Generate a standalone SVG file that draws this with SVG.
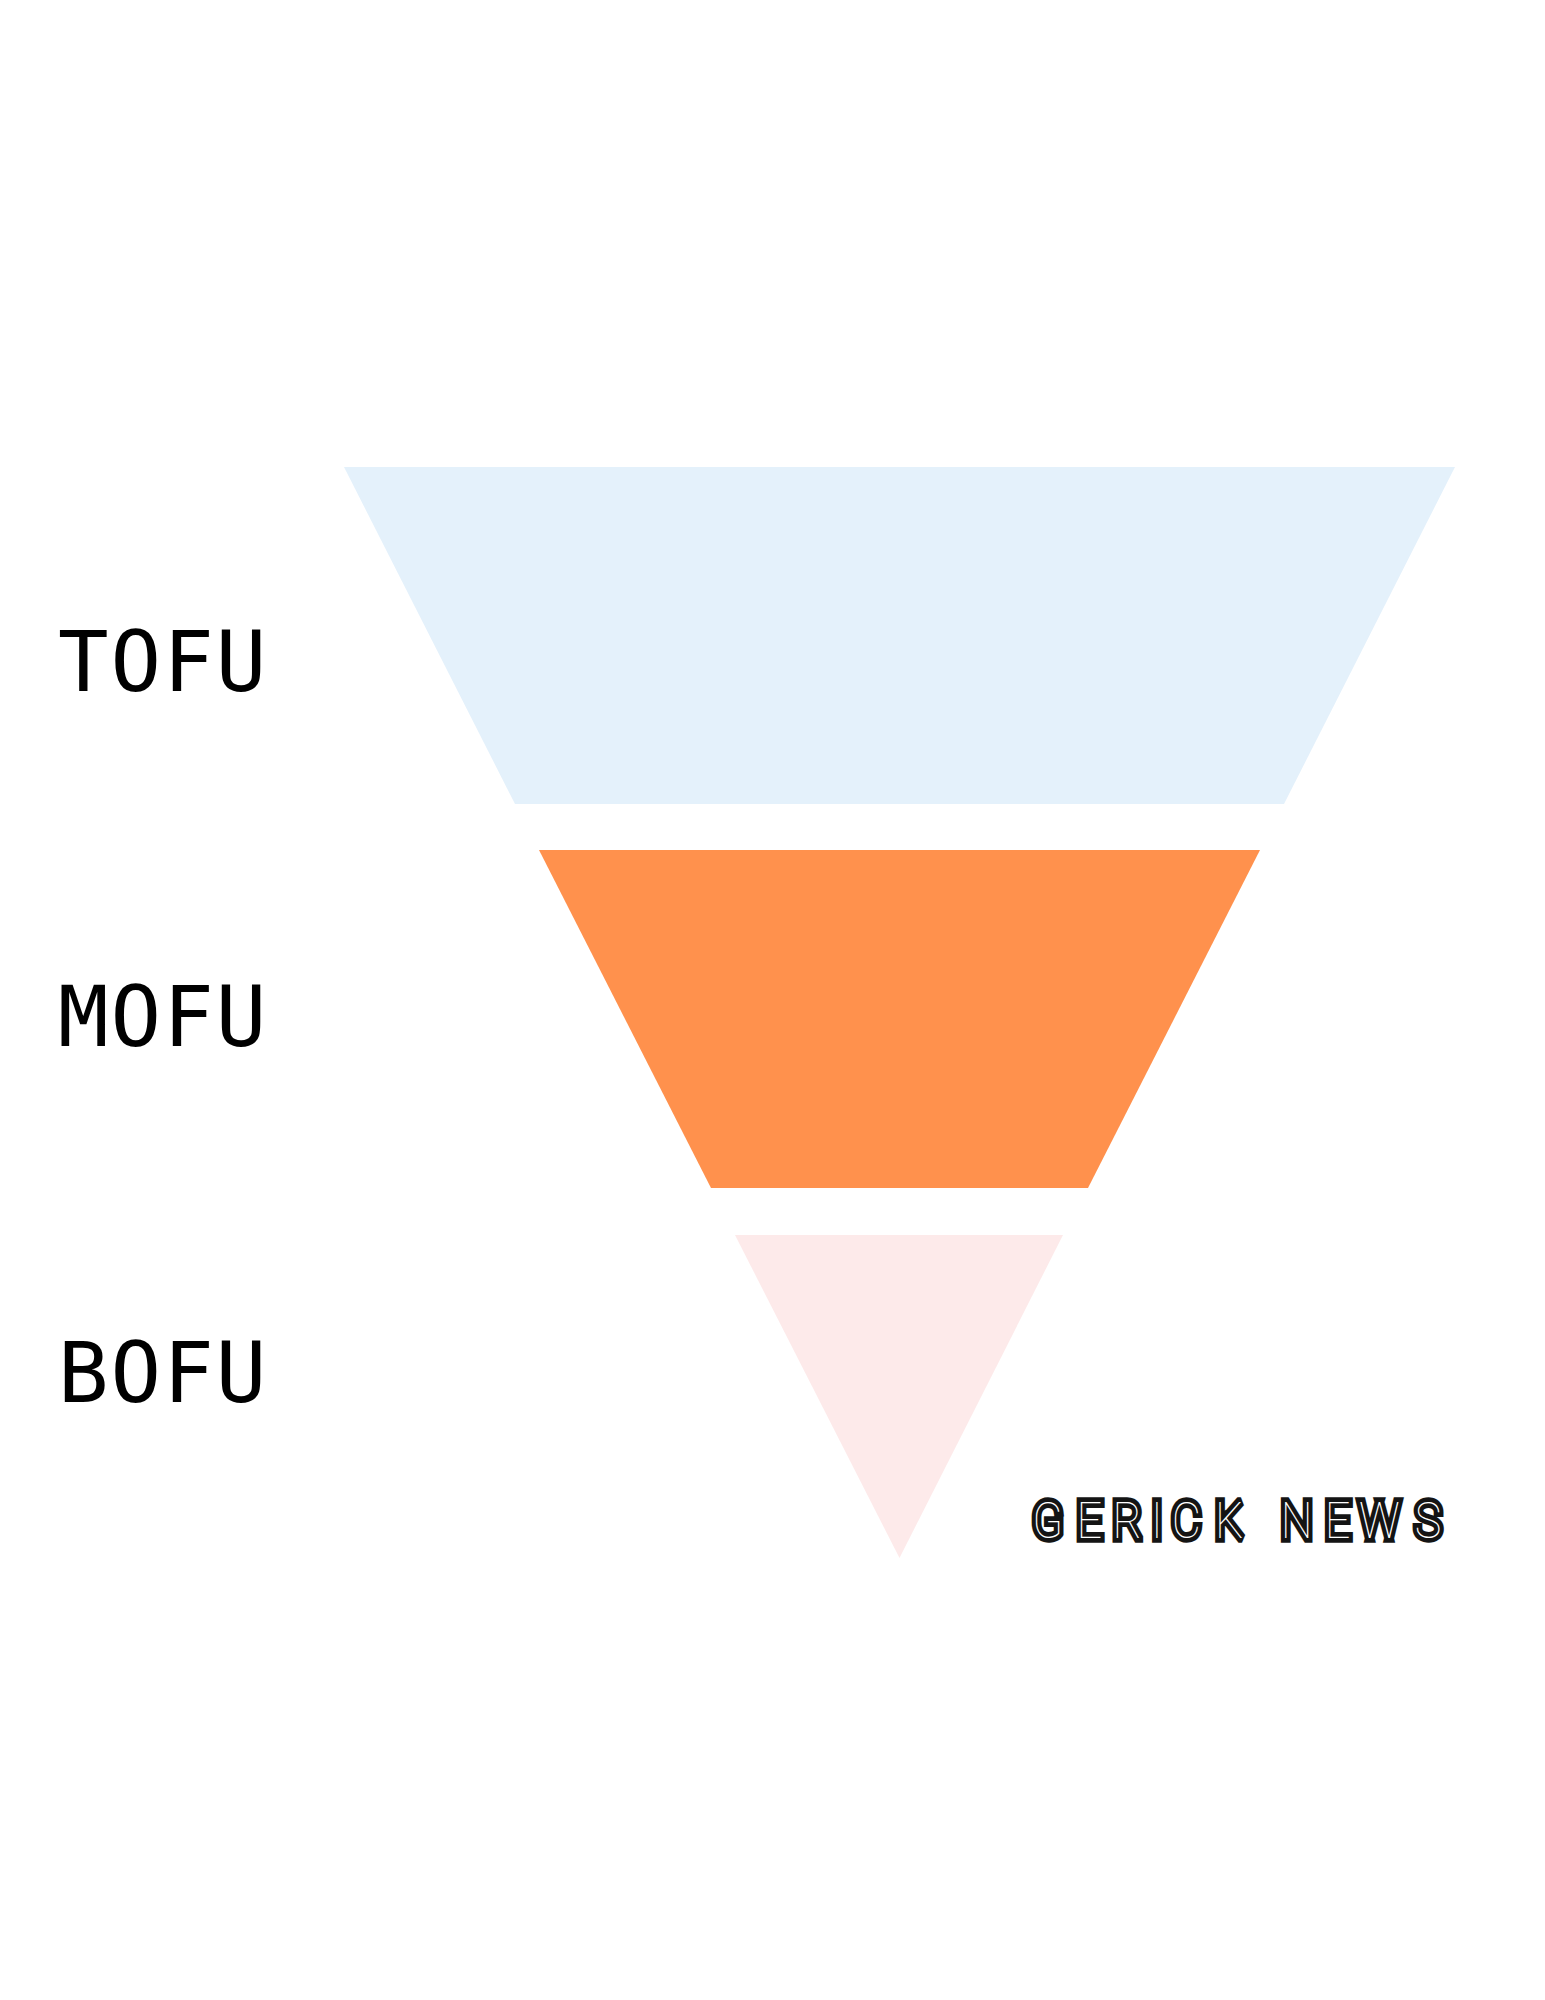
<svg xmlns="http://www.w3.org/2000/svg" width="1545" height="2000" viewBox="0 0 1545 2000">
<style>
.lbl{font-family:"DejaVu Sans Mono","Liberation Mono",monospace;font-size:84px;letter-spacing:2px;fill:#000}
.brand{font-family:Roboto,"Liberation Sans",sans-serif;font-weight:100;font-size:50px;fill:#fff;stroke:#141414;stroke-width:9.5px;stroke-linejoin:miter;stroke-miterlimit:2;paint-order:stroke}
</style>
<rect width="1545" height="2000" fill="#fff"/>
<g id="tofu"><polygon points="344,467 1455,467 1284,804 515,804" fill="#e4f1fb"/><text class="lbl" x="58" y="691">TOFU</text></g>
<g id="mofu"><polygon points="539,850 1260,850 1088,1188 711,1188" fill="#ff914d"/><text class="lbl" x="58" y="1046">MOFU</text></g>
<g id="bofu"><polygon points="735,1235 1063,1235 899.5,1558" fill="#fdeaea"/><text class="lbl" x="58" y="1402">BOFU</text></g>
<g id="brand"><text class="brand" transform="translate(0,1538) scale(.9,1)" x="1147 1196 1236 1279 1302 1350 1400 1423 1472 1510 1572" y="0">GERICK NEWS</text></g>
</svg>
